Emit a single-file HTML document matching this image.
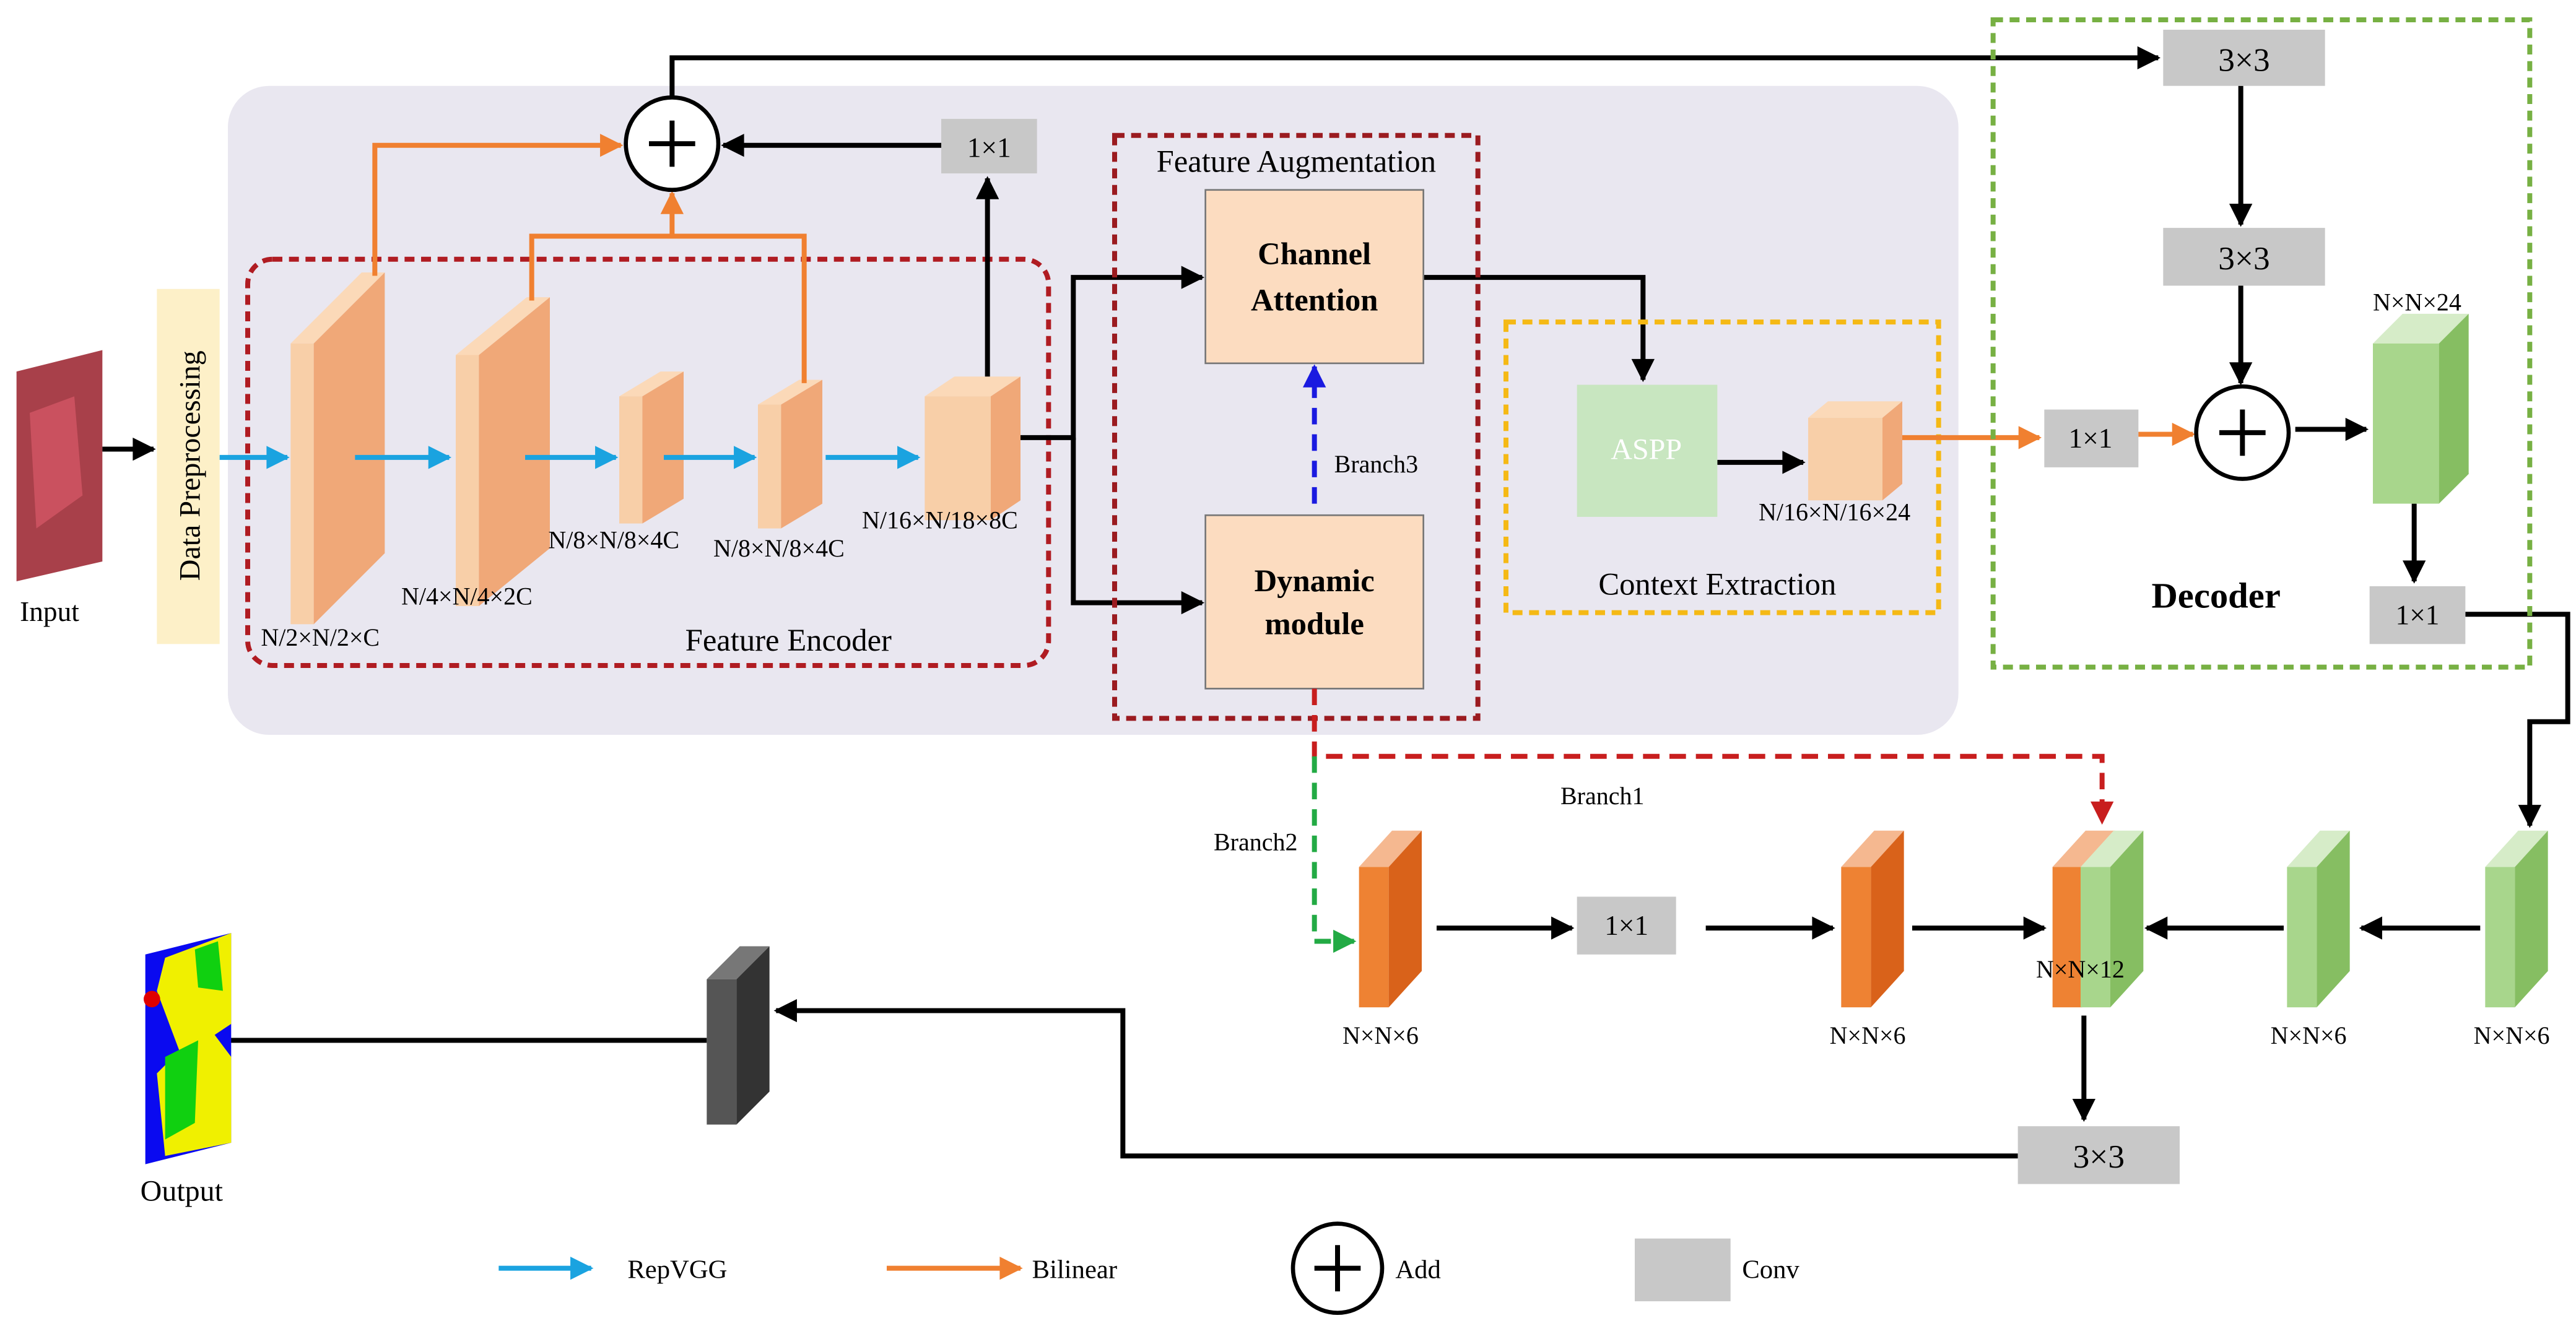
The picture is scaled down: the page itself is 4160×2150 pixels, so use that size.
<!DOCTYPE html>
<html><head><meta charset="utf-8"><style>html,body{margin:0;padding:0;background:#fff}svg{display:block}text{font-family:"Liberation Serif",serif}</style></head>
<body>
<svg width="4160" height="2150" viewBox="0 0 1560 806" preserveAspectRatio="none" xmlns="http://www.w3.org/2000/svg">
<defs>
<marker id="ak" markerWidth="8" markerHeight="8" refX="6" refY="4" orient="auto" markerUnits="userSpaceOnUse"><path d="M0,0 L0,0 L18,4 L0,8z" transform="scale(0.4,1)"/></marker>
<marker id="k" viewBox="0 0 10 10" refX="9" refY="5" markerWidth="16" markerHeight="14" orient="auto" markerUnits="userSpaceOnUse"><path d="M0,0L10,5L0,10z" fill="#000"/></marker>
<marker id="b" viewBox="0 0 10 10" refX="9" refY="5" markerWidth="16" markerHeight="14" orient="auto" markerUnits="userSpaceOnUse"><path d="M0,0L10,5L0,10z" fill="#1aa3e0"/></marker>
<marker id="o" viewBox="0 0 10 10" refX="9" refY="5" markerWidth="16" markerHeight="14" orient="auto" markerUnits="userSpaceOnUse"><path d="M0,0L10,5L0,10z" fill="#f08030"/></marker>
<marker id="bl" viewBox="0 0 10 10" refX="9" refY="5" markerWidth="16" markerHeight="14" orient="auto" markerUnits="userSpaceOnUse"><path d="M0,0L10,5L0,10z" fill="#1a1ae0"/></marker>
<marker id="r" viewBox="0 0 10 10" refX="9" refY="5" markerWidth="16" markerHeight="14" orient="auto" markerUnits="userSpaceOnUse"><path d="M0,0L10,5L0,10z" fill="#c81e1e"/></marker>
<marker id="g" viewBox="0 0 10 10" refX="9" refY="5" markerWidth="16" markerHeight="14" orient="auto" markerUnits="userSpaceOnUse"><path d="M0,0L10,5L0,10z" fill="#22aa44"/></marker>
</defs>
<rect x="138" y="52" width="1048" height="393" rx="25" fill="#e9e7f0"/>
<!-- input -->
<polygon points="10,225 62,212 62,340 10,352" fill="#a8404a"/>
<polygon points="18,250 45,240 50,300 22,320" fill="#d85868" opacity="0.7"/>
<text x="30" y="376" font-size="17" text-anchor="middle">Input</text>
<line x1="62" y1="272" x2="93" y2="272" stroke="#000" stroke-width="3" marker-end="url(#k)"/>
<rect x="95" y="175" width="38" height="215" fill="#fdf0c8"/>
<text transform="translate(121,282) rotate(-90)" font-size="18" text-anchor="middle">Data Preprocessing</text>
<rect x="150" y="157" width="485" height="246" rx="15" fill="none" stroke="#b01c22" stroke-width="3" stroke-dasharray="6,4"/>
<!-- slabs -->
<g stroke="none">
<polygon points="176,208 219,165 233,165 190,208" fill="#fbd9b8"/><rect x="176" y="208" width="14" height="170" fill="#f8cfa8"/><polygon points="190,208 233,165 233,335 190,378" fill="#f0a878"/>
<polygon points="276,215 319,180 333,180 290,215" fill="#fbd9b8"/><rect x="276" y="215" width="14" height="152" fill="#f8cfa8"/><polygon points="290,215 333,180 333,332 290,367" fill="#f0a878"/>
<polygon points="375,240 400,225 414,225 389,240" fill="#fbd9b8"/><rect x="375" y="240" width="14" height="77" fill="#f8cfa8"/><polygon points="389,240 414,225 414,302 389,317" fill="#f0a878"/>
<polygon points="459,245 484,230 498,230 473,245" fill="#fbd9b8"/><rect x="459" y="245" width="14" height="75" fill="#f8cfa8"/><polygon points="473,245 498,230 498,305 473,320" fill="#f0a878"/>
<polygon points="560,240 578,228 618,228 600,240" fill="#fbd9b8"/><rect x="560" y="240" width="40" height="75" fill="#f8cfa8"/><polygon points="600,240 618,228 618,303 600,315" fill="#f0a878"/>
</g>
<g font-size="15">
<text x="158" y="391">N/2×N/2×C</text><text x="243" y="366">N/4×N/4×2C</text><text x="332" y="332">N/8×N/8×4C</text><text x="432" y="337">N/8×N/8×4C</text><text x="522" y="320">N/16×N/18×8C</text>
</g>
<text x="415" y="394" font-size="19">Feature Encoder</text>
<g stroke="#1aa3e0" stroke-width="3" marker-end="url(#b)">
<line x1="133" y1="277" x2="174" y2="277"/><line x1="215" y1="277" x2="272" y2="277"/><line x1="318" y1="277" x2="373" y2="277"/><line x1="402" y1="277" x2="457" y2="277"/><line x1="500" y1="277" x2="556" y2="277"/>
</g>
<g stroke="#f08030" stroke-width="3" fill="none">
<polyline points="227,167 227,88 376,88" marker-end="url(#o)"/>
<polyline points="322,182 322,143 487,143 487,232"/>
<line x1="407" y1="143" x2="407" y2="117" marker-end="url(#o)"/>
</g>
<circle cx="407" cy="87" r="28" fill="#fff" stroke="#000" stroke-width="2.5"/>
<path d="M393,87H421M407,73V101" stroke="#000" stroke-width="3"/>
<rect x="570" y="72" width="58" height="33" fill="#c8c8c8"/><text x="599" y="95" font-size="17" text-anchor="middle">1×1</text>
<g stroke="#000" stroke-width="3" fill="none" marker-end="url(#k)">
<line x1="570" y1="88" x2="438" y2="88"/>
<line x1="598" y1="228" x2="598" y2="108"/>
<polyline points="407,59 407,35 1307,35"/>
<polyline points="618,265 650,265 650,168 728,168"/>
<polyline points="650,265 650,365 728,365"/>
<polyline points="862,168 995,168 995,230"/>
<line x1="1040" y1="280" x2="1092" y2="280"/>
<line x1="1357" y1="52" x2="1357" y2="136"/>
<line x1="1357" y1="173" x2="1357" y2="232"/>
<line x1="1390" y1="260" x2="1433" y2="260"/>
<line x1="1462" y1="305" x2="1462" y2="352"/>
<polyline points="1493,372 1555,372 1555,437 1532,437 1532,500"/>
<line x1="870" y1="562" x2="952" y2="562"/>
<line x1="1033" y1="562" x2="1110" y2="562"/>
<line x1="1158" y1="562" x2="1238" y2="562"/>
<line x1="1383" y1="562" x2="1300" y2="562"/>
<line x1="1502" y1="562" x2="1430" y2="562"/>
<line x1="1262" y1="615" x2="1262" y2="678"/>
<polyline points="1222,700 680,700 680,612 470,612"/>
<line x1="428" y1="630" x2="124" y2="630"/>
</g>
<rect x="675" y="82" width="220" height="353" fill="none" stroke="#9b1b20" stroke-width="3" stroke-dasharray="6,4"/>
<text x="785" y="104" font-size="19" text-anchor="middle">Feature Augmentation</text>
<rect x="730" y="115" width="132" height="105" fill="#fcdcc0" stroke="#777"/>
<text x="796" y="160" font-size="19" font-weight="bold" text-anchor="middle">Channel</text><text x="796" y="188" font-size="19" font-weight="bold" text-anchor="middle">Attention</text>
<rect x="730" y="312" width="132" height="105" fill="#fcdcc0" stroke="#777"/>
<text x="796" y="358" font-size="19" font-weight="bold" text-anchor="middle">Dynamic</text><text x="796" y="384" font-size="19" font-weight="bold" text-anchor="middle">module</text>
<line x1="796" y1="305" x2="796" y2="222" stroke="#1a1ae0" stroke-width="3" stroke-dasharray="10,6" marker-end="url(#bl)"/>
<text x="808" y="286" font-size="15">Branch3</text>
<rect x="912" y="195" width="262" height="176" fill="none" stroke="#f5b915" stroke-width="3" stroke-dasharray="6,4"/>
<rect x="955" y="233" width="85" height="80" fill="#c8e6c0"/><text x="997" y="278" font-size="18" fill="#fff" text-anchor="middle">ASPP</text>
<polygon points="1095,253 1107,243 1152,243 1140,253" fill="#fbd9b8"/><rect x="1095" y="253" width="45" height="50" fill="#f8cfa8"/><polygon points="1140,253 1152,243 1152,293 1140,303" fill="#f0a878"/>
<text x="1065" y="315" font-size="15">N/16×N/16×24</text>
<text x="968" y="360" font-size="19">Context  Extraction</text>
<line x1="1152" y1="265" x2="1235" y2="265" stroke="#f08030" stroke-width="3" marker-end="url(#o)"/>
<rect x="1238" y="248" width="57" height="35" fill="#c8c8c8"/><text x="1266" y="271" font-size="17" text-anchor="middle">1×1</text>
<line x1="1295" y1="263" x2="1328" y2="263" stroke="#f08030" stroke-width="3" marker-end="url(#o)"/>
<rect x="1207" y="12" width="325" height="392" fill="none" stroke="#77b043" stroke-width="3" stroke-dasharray="6,4"/>
<rect x="1310" y="18" width="98" height="34" fill="#c8c8c8"/><text x="1359" y="43" font-size="20" text-anchor="middle">3×3</text>
<rect x="1310" y="138" width="98" height="35" fill="#c8c8c8"/><text x="1359" y="163" font-size="20" text-anchor="middle">3×3</text>
<circle cx="1358" cy="262" r="28" fill="#fff" stroke="#000" stroke-width="2.5"/>
<path d="M1344,262H1372M1358,248V276" stroke="#000" stroke-width="3"/>
<polygon points="1437,208 1455,190 1495,190 1477,208" fill="#d6ecc8"/><rect x="1437" y="208" width="40" height="97" fill="#a8d68c"/><polygon points="1477,208 1495,190 1495,287 1477,305" fill="#86be62"/>
<text x="1437" y="188" font-size="15">N×N×24</text>
<rect x="1435" y="355" width="58" height="35" fill="#c8c8c8"/><text x="1464" y="378" font-size="17" text-anchor="middle">1×1</text>
<text x="1342" y="368" font-size="22" font-weight="bold" text-anchor="middle">Decoder</text>
<polyline points="796,417 796,458 1273,458 1273,498" fill="none" stroke="#c81e1e" stroke-width="3" stroke-dasharray="10,6" marker-end="url(#r)"/>
<polyline points="796,458 796,570 820,570" fill="none" stroke="#22aa44" stroke-width="3" stroke-dasharray="10,6" marker-end="url(#g)"/>
<text x="945" y="487" font-size="15">Branch1</text><text x="735" y="515" font-size="15">Branch2</text>
<!-- bottom blocks -->
<g>
<polygon points="823,525 843,503 861,503 841,525" fill="#f5b890"/><rect x="823" y="525" width="18" height="85" fill="#ee8233"/><polygon points="841,525 861,503 861,588 841,610" fill="#d9621a"/>
<polygon points="1115,525 1135,503 1153,503 1133,525" fill="#f5b890"/><rect x="1115" y="525" width="18" height="85" fill="#ee8233"/><polygon points="1133,525 1153,503 1153,588 1133,610" fill="#d9621a"/>
<polygon points="1243,525 1263,503 1281,503 1261,525" fill="#f5b890"/><rect x="1243" y="525" width="18" height="85" fill="#ee8233"/>
<polygon points="1260,525 1280,503 1298,503 1278,525" fill="#d6ecc8"/><rect x="1260" y="525" width="18" height="85" fill="#a8d68c"/><polygon points="1278,525 1298,503 1298,588 1278,610" fill="#86be62"/>
<polygon points="1385,525 1405,503 1423,503 1403,525" fill="#d6ecc8"/><rect x="1385" y="525" width="18" height="85" fill="#a8d68c"/><polygon points="1403,525 1423,503 1423,588 1403,610" fill="#86be62"/>
<polygon points="1505,525 1525,503 1543,503 1523,525" fill="#d6ecc8"/><rect x="1505" y="525" width="18" height="85" fill="#a8d68c"/><polygon points="1523,525 1543,503 1543,588 1523,610" fill="#86be62"/>
<polygon points="428,593 448,573 466,573 446,593" fill="#777"/><rect x="428" y="593" width="18" height="88" fill="#555"/><polygon points="446,593 466,573 466,661 446,681" fill="#333"/>
</g>
<g font-size="15">
<text x="813" y="632">N×N×6</text><text x="1108" y="632">N×N×6</text><text x="1233" y="592">N×N×12</text><text x="1375" y="632">N×N×6</text><text x="1498" y="632">N×N×6</text>
</g>
<rect x="955" y="543" width="60" height="35" fill="#c8c8c8"/><text x="985" y="566" font-size="17" text-anchor="middle">1×1</text>
<rect x="1222" y="682" width="98" height="35" fill="#c8c8c8"/><text x="1271" y="707" font-size="20" text-anchor="middle">3×3</text>
<!-- output -->
<polygon points="88,578 140,565 140,692 88,705" fill="#0a0af0"/>
<polygon points="100,580 140,565 140,620 110,640 95,600" fill="#f0f000"/>
<polygon points="95,650 125,620 140,640 140,692 100,700" fill="#f0f000"/>
<polygon points="100,640 120,630 118,680 100,690" fill="#10d010"/>
<polygon points="118,575 132,570 135,600 120,598" fill="#10d010"/>
<circle cx="92" cy="605" r="5" fill="#e00000"/>
<text x="110" y="727" font-size="18" text-anchor="middle">Output</text>
<!-- legend -->
<line x1="302" y1="768" x2="358" y2="768" stroke="#1aa3e0" stroke-width="3" marker-end="url(#b)"/><text x="380" y="774" font-size="16">RepVGG</text>
<line x1="537" y1="768" x2="618" y2="768" stroke="#f08030" stroke-width="3" marker-end="url(#o)"/><text x="625" y="774" font-size="16">Bilinear</text>
<circle cx="810" cy="768" r="27" fill="#fff" stroke="#000" stroke-width="2.5"/><path d="M796,768H824M810,754V782" stroke="#000" stroke-width="3"/><text x="845" y="774" font-size="16">Add</text>
<rect x="990" y="750" width="58" height="38" fill="#c8c8c8"/><text x="1055" y="774" font-size="16">Conv</text>
</svg>
</body></html>
